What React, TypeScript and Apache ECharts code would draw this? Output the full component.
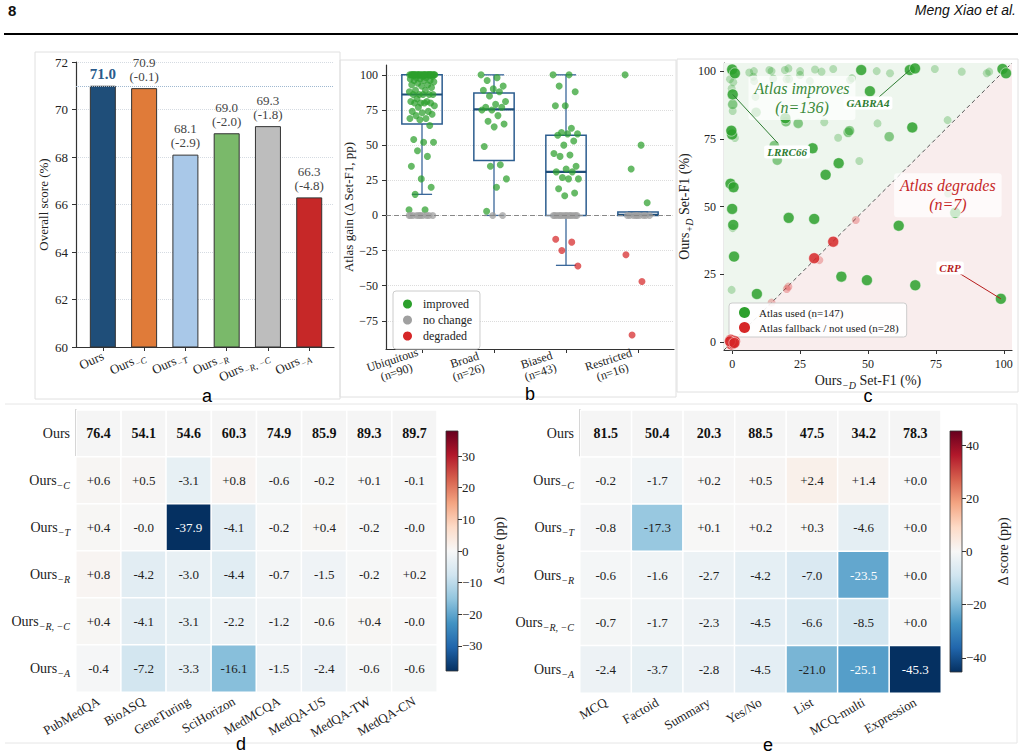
import React, { useEffect, useRef } from 'react';
import * as echarts from 'echarts';

const SERIF = '"Liberation Serif", "DejaVu Serif", "Times New Roman", serif';
const SANS = '"Liberation Sans", "DejaVu Sans", Arial, sans-serif';

// ---- a: overall score per ablation variant ----
const variantSubs = ['', 'C', 'T', 'R', 'R, \u2212C', 'A'];
const overallScores = [71.0, 70.9, 68.1, 69.0, 69.3, 66.3];
const overallDeltas = [0, -0.1, -2.9, -2.0, -1.8, -4.8];
const overallTicks = [60, 62, 64, 66, 68, 70, 72];

// ---- b: Atlas gain by specificity group ----
const specificityGroups = ['Ubiquitous', 'Broad', 'Biased', 'Restricted'];
const groupSizes = [90, 26, 43, 16];
// [lower whisker, Q1, median, Q3, upper whisker]
const gainBoxStats = [
  [15, 65, 86, 100, 100],
  [0, 39, 75.5, 87, 100],
  [-35.5, 0, 31, 57, 100],
  [0, 0, 0.5, 2.5, 2.5],
];
const improvedGains = [
  [4, 4, 15, 20, 26, 35, 42, 46, 52, 52, 54, 64, 68, 69, 69, 71, 72, 73, 74, 74, 77, 78, 80, 80, 80, 80, 81, 81, 83, 86, 86, 86, 86, 86,
    88, 89, 89, 91, 92, 93, 93, 94, 95, 96, 96, 96, 97, 97, 98, 98, 99, 99,
    100, 100, 100, 100, 100, 100, 100, 100, 100, 100, 100, 100, 100, 100, 100, 100, 100, 100, 100, 100, 100, 100, 100, 100, 100, 100, 100, 100],
  [100, 98, 96, 92, 90, 89, 88, 85, 81, 79, 77, 77, 75, 75, 71, 67, 65, 63, 49, 36, 35, 26, 20, 3],
  [100, 100, 92, 88, 78, 78, 62, 59, 58, 58, 57, 53, 50, 44, 43, 42, 35, 33, 31, 31, 27, 26, 26, 19, 16, 14],
  [100, 50, 33, 9],
];
const unchangedCounts = [10, 2, 13, 9];
const degradedGains = [[], [], [-17, -19, -25, -36], [-28, -47, -85]];
const gainTicks = [-75, -50, -25, 0, 25, 50, 75, 100];

// ---- c: Set-F1 without (x) vs with (y) the atlas ----
const usedStrong = [
  [0, 100.6], [1, 99.2], [47.5, 100.4], [65.4, 100.4], [67.3, 101], [99.5, 100.8], [100.8, 99.2],
  [50.7, 92.6], [19.6, 82.6], [66.3, 79.2], [0, 76.6], [-0.3, 78], [29.6, 71.5], [39.2, 66], [34.4, 61.7],
  [-0.6, 58.4], [0.5, 57.1], [0, 49.1], [0.4, 43.2], [20.8, 45.8], [30.2, 45.4], [61.3, 42.9], [82.1, 47.7],
  [0.7, 31.5], [9.1, 17.7], [40.2, 24.1], [49.6, 22.8], [67.4, 20.9], [98.9, 15.9], [0.2, 91.4],
];
const usedMedium = [
  [24.3, 80.7], [42.7, 77.4], [43.2, 78], [57.8, 75.8], [16.6, 67.1], [15.5, 72.5], [8.8, 84.8], [0.2, 87.7], [19.8, 81.3],
];
const usedFaint = [
  [6.3, 99.5], [8, 100], [7.8, 97.9], [8.1, 96.3], [13.7, 100.4], [14.5, 100], [15.1, 97.3], [19.4, 100.4], [20.7, 101],
  [20, 97], [21, 97], [25, 100], [25, 98.6], [28.6, 96.3], [30.5, 100.6], [32.9, 99.8], [37.2, 100.8], [43.4, 96.7],
  [44.1, 97.4], [53.2, 100], [58.1, 99.2], [74.6, 100.8], [84.5, 99.8], [93.7, 99.2], [94.6, 99.8], [-0.8, 97],
  [0.4, 95.9], [-0.2, 93.6], [-0.5, 100], [0.6, 98.5], [0.2, 85.3], [1, 75.3], [8.6, 90.5], [33.9, 81.1], [39, 75.4],
  [53.5, 80.7], [46.8, 66.8], [79.3, 81.9], [79.5, 54.8], [-0.2, 19.2], [0.2, 42], [-0.6, 77.8],
];
const fallbackStrong = [
  [0, 0], [0.5, 0.3], [-0.5, 0.8], [1, 0.2], [-0.2, -1], [0.3, -0.6], [-0.8, 0.2], [0.8, -0.4], [37.2, 37], [30.2, 30.9],
];
const fallbackFaint = [[32.1, 30.2], [45.5, 45], [20.1, 19.5], [20.7, 20.4], [14.5, 14.5], [0.5, 1], [-1, -0.5]];
const usedCount = 147;
const fallbackCount = 28;
const improvesCount = 136;
const degradesCount = 7;
const f1Ticks = [0, 25, 50, 75, 100];

// ---- d: per-benchmark scores ----
const dBenchmarks = ['PubMedQA', 'BioASQ', 'GeneTuring', 'SciHorizon', 'MedMCQA', 'MedQA-US', 'MedQA-TW', 'MedQA-CN'];
const dOurs = [76.4, 54.1, 54.6, 60.3, 74.9, 85.9, 89.3, 89.7];
const dDeltas = [
  [0.6, 0.5, -3.1, 0.8, -0.6, -0.2, 0.1, -0.1],
  [0.4, -0.0, -37.9, -4.1, -0.2, 0.4, -0.2, -0.0],
  [0.8, -4.2, -3.0, -4.4, -0.7, -1.5, -0.2, 0.2],
  [0.4, -4.1, -3.1, -2.2, -1.2, -0.6, 0.4, -0.0],
  [-0.4, -7.2, -3.3, -16.1, -1.5, -2.4, -0.6, -0.6],
];
const dColorTicks = [-30, -20, -10, 0, 10, 20, 30];

// ---- e: per-question-type scores ----
const eTypes = ['MCQ', 'Factoid', 'Summary', 'Yes/No', 'List', 'MCQ-multi', 'Expression'];
const eOurs = [81.5, 50.4, 20.3, 88.5, 47.5, 34.2, 78.3];
const eDeltas = [
  [-0.2, -1.7, 0.2, 0.5, 2.4, 1.4, 0.0],
  [-0.8, -17.3, 0.1, 0.2, 0.3, -4.6, 0.0],
  [-0.6, -1.6, -2.7, -4.2, -7.0, -23.5, 0.0],
  [-0.7, -1.7, -2.3, -4.5, -6.6, -8.5, 0.0],
  [-2.4, -3.7, -2.8, -4.5, -21.0, -25.1, -45.3],
];
const eColorTicks = [-40, -20, 0, 20, 40];

const RDBU_R = ['#053061', '#2166ac', '#4393c3', '#92c5de', '#d1e5f0', '#f7f7f7', '#fddbc7', '#f4a582', '#d6604d', '#b2182b', '#67001f'];
const BAR_COLORS = ['#1f4e79', '#e07b39', '#a9c8e8', '#7ab96a', '#bdbdbd', '#c62828'];
const INK = '#222';
const AXIS = '#333';

const minus = (v: number) => (v < 0 ? '\u2212' + Math.abs(v) : String(v));
const signed = (v: number) => (v < 0 || Object.is(v, -0) ? '-' : '+') + Math.abs(v).toFixed(1);
const oursLabel = (s: string) => (s ? `{n|Ours}{s|\u2212${s}}` : '{n|Ours}');

const subRich = (size: number) => ({
  n: { fontFamily: SERIF, fontSize: size, lineHeight: size + 6, color: INK },
  s: { fontFamily: SERIF, fontSize: Math.round(size * 0.68), fontStyle: 'italic', lineHeight: Math.round(size * 0.68), verticalAlign: 'bottom', color: INK },
});

const jitter = (k: number) => (((k * 0.6180339887) % 1) - 0.5) * 0.36;

function stripPoints() {
  const improved: number[][] = [];
  const unchanged: number[][] = [];
  const degraded: number[][] = [];
  specificityGroups.forEach((_, g) => {
    let k = 0;
    improvedGains[g].forEach((v) => improved.push([g + jitter(k++), v]));
    for (let i = 0; i < unchangedCounts[g]; i++) unchanged.push([g + jitter(k++), 0]);
    degradedGains[g].forEach((v) => degraded.push([g + jitter(k++), v]));
  });
  return { improved, unchanged, degraded };
}

// top of the bar = highest value (dark red), bottom = lowest (dark blue)
function gradientStops() {
  const n = RDBU_R.length - 1;
  return RDBU_R.map((_, i) => ({ offset: i / n, color: RDBU_R[n - i] }));
}

function buildOption() {
  const series: any[] = [];
  const axisLineStyle = { color: AXIS, width: 1.2 };
  const tickLabel = { fontFamily: SERIF, fontSize: 12, color: INK };

  // ---------- a ----------
  series.push({
    type: 'bar', xAxisIndex: 0, yAxisIndex: 0, barWidth: 26, z: 3,
    itemStyle: { borderColor: '#333', borderWidth: 1 },
    data: overallScores.map((v, i) => ({
      value: [i, v],
      itemStyle: { color: BAR_COLORS[i] },
      label: i === 0
        ? { formatter: v.toFixed(1), color: '#2a5b8c', fontWeight: 'bold', fontSize: 15 }
        : { formatter: `${v.toFixed(1)}\n(${overallDeltas[i].toFixed(1)})` },
    })),
    label: { show: true, position: 'top', distance: 5, fontFamily: SERIF, fontSize: 13, lineHeight: 14, color: '#444' },
    markLine: {
      silent: true, symbol: 'none', label: { show: false },
      lineStyle: { type: 'dotted', color: '#9fb8d0', width: 1 },
      data: [{ yAxis: overallScores[0] }],
    },
  });

  // ---------- b ----------
  series.push({
    type: 'custom', xAxisIndex: 1, yAxisIndex: 1, z: 2, silent: true,
    data: gainBoxStats.map((s, i) => [i, ...s]),
    renderItem: (_p: any, api: any) => {
      const i = api.value(0);
      const lo = api.value(1), q1 = api.value(2), med = api.value(3), q3 = api.value(4), hi = api.value(5);
      const hw = 0.28, cw = 0.14;
      const [xl, yq3] = api.coord([i - hw, q3]);
      const [xr, yq1] = api.coord([i + hw, q1]);
      const [xc, ylo] = api.coord([i, lo]);
      const yhi = api.coord([i, hi])[1];
      const ym = api.coord([i, med])[1];
      const cl = api.coord([i - cw, 0])[0];
      const cr = api.coord([i + cw, 0])[0];
      const st = { stroke: '#3a679a', lineWidth: 1.3 };
      return {
        type: 'group',
        children: [
          { type: 'line', shape: { x1: xc, y1: yq1, x2: xc, y2: ylo }, style: st },
          { type: 'line', shape: { x1: xc, y1: yq3, x2: xc, y2: yhi }, style: st },
          { type: 'line', shape: { x1: cl, y1: ylo, x2: cr, y2: ylo }, style: st },
          { type: 'line', shape: { x1: cl, y1: yhi, x2: cr, y2: yhi }, style: st },
          { type: 'rect', shape: { x: xl, y: yq3, width: xr - xl, height: Math.max(yq1 - yq3, 0.5) }, style: { fill: 'rgba(0,0,0,0)', stroke: '#2c5d8f', lineWidth: 1.5 } },
          { type: 'line', shape: { x1: xl, y1: ym, x2: xr, y2: ym }, style: { stroke: '#1f4e79', lineWidth: 2.2 } },
        ],
      };
    },
  });
  const pts = stripPoints();
  series.push({
    type: 'scatter', name: 'improved', xAxisIndex: 1, yAxisIndex: 1, z: 4, symbolSize: 7,
    itemStyle: { color: '#2ca02c', opacity: 0.72 }, data: pts.improved,
    markLine: {
      silent: true, symbol: 'none', label: { show: false },
      lineStyle: { type: [5, 3], color: '#888', width: 1.2 },
      data: [{ yAxis: 0 }],
    },
  });
  series.push({ type: 'scatter', name: 'no change', xAxisIndex: 1, yAxisIndex: 1, z: 4, symbolSize: 7, itemStyle: { color: '#a0a0a0', opacity: 0.75 }, data: pts.unchanged });
  series.push({ type: 'scatter', name: 'degraded', xAxisIndex: 1, yAxisIndex: 1, z: 4, symbolSize: 7, itemStyle: { color: '#d62728', opacity: 0.72 }, data: pts.degraded });

  // ---------- c ----------
  const cMin = -3, cMax = 103;
  series.push({
    type: 'custom', xAxisIndex: 2, yAxisIndex: 2, z: 1, silent: true, data: [[0, 0]],
    renderItem: (_p: any, api: any) => {
      const a = api.coord([cMin, cMin]), b = api.coord([cMin, cMax]), c = api.coord([cMax, cMax]), d = api.coord([cMax, cMin]);
      return {
        type: 'group',
        children: [
          { type: 'polygon', shape: { points: [a, b, c] }, style: { fill: '#eef6ee' } },
          { type: 'polygon', shape: { points: [a, d, c] }, style: { fill: '#f9eded' } },
          { type: 'line', shape: { x1: a[0], y1: a[1], x2: c[0], y2: c[1] }, style: { stroke: '#555', lineWidth: 1, lineDash: [4, 3] } },
        ],
      };
    },
  });
  const usedName = `Atlas used (n=${usedCount})`;
  const fallbackName = `Atlas fallback / not used (n=${fallbackCount})`;
  series.push({ type: 'scatter', name: usedName, xAxisIndex: 2, yAxisIndex: 2, z: 3, symbolSize: 8, itemStyle: { color: '#2ca02c', opacity: 0.3 }, data: usedFaint });
  series.push({ type: 'scatter', name: fallbackName, xAxisIndex: 2, yAxisIndex: 2, z: 3, symbolSize: 8, itemStyle: { color: '#d62728', opacity: 0.3 }, data: fallbackFaint });
  series.push({ type: 'scatter', name: usedName, xAxisIndex: 2, yAxisIndex: 2, z: 4, symbolSize: 10, itemStyle: { color: '#2ca02c', opacity: 0.55, borderColor: '#fff', borderWidth: 0.6 }, data: usedMedium });
  series.push({ type: 'scatter', name: usedName, xAxisIndex: 2, yAxisIndex: 2, z: 5, symbolSize: 11, itemStyle: { color: '#2ca02c', opacity: 0.85, borderColor: '#fff', borderWidth: 0.6 }, data: usedStrong });
  series.push({ type: 'scatter', name: fallbackName, xAxisIndex: 2, yAxisIndex: 2, z: 5, symbolSize: 11, itemStyle: { color: '#d62728', opacity: 0.85, borderColor: '#fff', borderWidth: 0.6 }, data: fallbackStrong });

  // region captions and gene call-outs, anchored in data units
  const notes = [
    { text: `Atlas improves\n(n=${improvesCount})`, at: [25.7, 90.1], color: '#3a8a3a', big: true },
    { text: `Atlas degrades\n(n=${degradesCount})`, at: [79.4, 54.2], color: '#c62828', big: true },
    { text: 'GABRA4', at: [50, 88.2], color: '#2e7d32', big: false, from: [54, 90.4], to: [65.4, 100.4] },
    { text: 'LRRC66', at: [20.2, 70.1], color: '#2e7d32', big: false, from: [16.8, 73.4], to: [0.2, 91.4] },
    { text: 'CRP', at: [80.2, 27.3], color: '#b71c1c', big: false, from: [83.5, 25.4], to: [98.9, 15.9] },
  ];
  series.push({
    type: 'custom', xAxisIndex: 2, yAxisIndex: 2, z: 8, silent: true,
    data: notes.map((n, i) => [n.at[0], n.at[1], i]),
    renderItem: (_p: any, api: any) => {
      const n = notes[api.value(2)];
      const p = api.coord(n.at);
      const children: any[] = [];
      if (n.from && n.to) {
        const a = api.coord(n.from), b = api.coord(n.to);
        children.push({ type: 'line', shape: { x1: a[0], y1: a[1], x2: b[0], y2: b[1] }, style: { stroke: n.color, lineWidth: 1 } });
      }
      children.push({
        type: 'text',
        style: n.big
          ? { text: n.text, x: p[0], y: p[1], align: 'center', verticalAlign: 'middle', fontFamily: SERIF, fontSize: 16, fontStyle: 'italic', lineHeight: 19, fill: n.color, backgroundColor: 'rgba(255,255,255,0.72)', padding: [3, 6], borderRadius: 3 }
          : { text: n.text, x: p[0], y: p[1], align: 'center', verticalAlign: 'middle', fontFamily: SERIF, fontSize: 11, fontStyle: 'italic', fontWeight: 'bold', fill: n.color, backgroundColor: '#fff', padding: [1, 3], borderRadius: 2 },
      });
      return { type: 'group', children };
    },
  });

  // ---------- d / e heatmaps ----------
  const heat = (xi: number, yi: number, cbx: number, cby: number, ours: number[], deltas: number[][], lim: number) => {
    series.push({
      type: 'custom', xAxisIndex: xi, yAxisIndex: yi, z: 2, silent: true,
      data: ours.map((v, c) => [c, 0, v]),
      renderItem: (_p: any, api: any) => {
        const c = api.coord([api.value(0), api.value(1)]);
        const s = api.size([1, 1]);
        return {
          type: 'group',
          children: [
            { type: 'rect', shape: { x: c[0] - s[0] / 2, y: c[1] - s[1] / 2, width: s[0], height: s[1] }, style: { fill: '#f5f5f5', stroke: '#fff', lineWidth: 1.5 } },
            { type: 'text', style: { text: api.value(2).toFixed(1), x: c[0], y: c[1], align: 'center', verticalAlign: 'middle', fontFamily: SERIF, fontSize: 14, fontWeight: 'bold', fill: '#111' } },
          ],
        };
      },
    });
    const heatIndex = series.length;
    const cells: any[] = [];
    deltas.forEach((row, r) => row.forEach((v, c) => cells.push({
      value: [c, r + 1, v],
      label: { color: Math.abs(v) > lim * 0.5 ? '#fff' : INK },
    })));
    series.push({
      type: 'heatmap', xAxisIndex: xi, yAxisIndex: yi, z: 2, data: cells,
      itemStyle: { borderColor: '#fff', borderWidth: 1.5 },
      emphasis: { disabled: true },
      label: { show: true, fontFamily: SERIF, fontSize: 13, formatter: (p: any) => signed(deltas[p.value[1] - 1][p.value[0]]) },
    });
    series.push({
      type: 'custom', xAxisIndex: cbx, yAxisIndex: cby, silent: true, data: [[0, 0]],
      renderItem: (_p: any, api: any) => {
        const a = api.coord([0, lim]);
        const b = api.coord([1, -lim]);
        return {
          type: 'rect',
          shape: { x: a[0], y: a[1], width: b[0] - a[0], height: b[1] - a[1] },
          style: { fill: new echarts.graphic.LinearGradient(0, 0, 0, 1, gradientStops()), stroke: '#333', lineWidth: 0.8 },
        };
      },
    });
    return heatIndex;
  };
  const dLim = Math.max(...dDeltas.flat().map(Math.abs));
  const eLim = Math.max(...eDeltas.flat().map(Math.abs));
  const dHeat = heat(3, 3, 4, 4, dOurs, dDeltas, dLim);
  const eHeat = heat(5, 5, 6, 6, eOurs, eDeltas, eLim);

  const heatX = (cats: string[], gi: number) => ({
    gridIndex: gi, type: 'category', data: cats,
    axisLine: { show: true, onZero: false, lineStyle: { color: AXIS, width: 1.6 } }, axisTick: { show: false },
    axisLabel: { interval: 0, rotate: 30, fontFamily: SERIF, fontSize: 13, color: INK, margin: 8 },
    splitLine: { show: false },
  });
  const heatY = (gi: number) => ({
    gridIndex: gi, type: 'category', inverse: true, data: variantSubs.map((_, i) => String(i)),
    axisLine: { show: true, onZero: false, lineStyle: { color: AXIS, width: 1.6 } }, axisTick: { show: false },
    axisLabel: { interval: 0, formatter: (v: string) => oursLabel(variantSubs[+v]), rich: subRich(14), margin: 6 },
    splitLine: { show: false },
  });
  const cbarX = (gi: number) => ({ gridIndex: gi, type: 'value', min: 0, max: 1, show: false });
  const cbarY = (gi: number, lim: number, ticks: number[]) => ({
    gridIndex: gi, type: 'value', position: 'right', min: -lim, max: lim,
    axisLine: { show: false, onZero: false },
    axisTick: { show: true, customValues: ticks, length: 4, lineStyle: { color: AXIS } },
    axisLabel: { customValues: ticks, formatter: minus, fontFamily: SERIF, fontSize: 13, color: INK, margin: 4 },
    splitLine: { show: false },
    name: '\u0394 score (pp)', nameLocation: 'middle', nameRotate: 90, nameGap: 34,
    nameTextStyle: { fontFamily: SERIF, fontSize: 14, color: INK },
  });

  const graphic: any[] = [
    { type: 'text', left: 8, top: 3, style: { text: '8', font: `bold 15px ${SANS}`, fill: '#111' } },
    { type: 'text', right: 7, top: 3, style: { text: 'Meng Xiao et al.', font: `italic 14px ${SANS}`, fill: '#111' } },
    { type: 'rect', shape: { x: 4, y: 33, width: 1014, height: 2 }, style: { fill: '#000' } },
    { type: 'rect', shape: { x: 35, y: 52, width: 305, height: 347 }, style: { fill: 'none', stroke: '#e0e0e0', lineWidth: 1 }, silent: true, z: -1 },
    { type: 'rect', shape: { x: 340, y: 60, width: 336, height: 337 }, style: { fill: 'none', stroke: '#e0e0e0', lineWidth: 1 }, silent: true, z: -1 },
    { type: 'rect', shape: { x: 677, y: 59, width: 341, height: 333 }, style: { fill: 'none', stroke: '#e0e0e0', lineWidth: 1 }, silent: true, z: -1 },
    { type: 'line', shape: { x1: 5, y1: 404, x2: 1017, y2: 404 }, style: { stroke: '#e6e6e6', lineWidth: 1 }, silent: true },
    { type: 'line', shape: { x1: 5, y1: 743, x2: 1017, y2: 743 }, style: { stroke: '#e6e6e6', lineWidth: 1 }, silent: true },
    { type: 'line', shape: { x1: 1017, y1: 404, x2: 1017, y2: 743 }, style: { stroke: '#e6e6e6', lineWidth: 1 }, silent: true },
  ];
  const letters: [string, number, number][] = [['a', 207, 396], ['b', 530, 394], ['c', 868, 396], ['d', 241, 744], ['e', 768, 745]];
  letters.forEach(([t, x, y]) => graphic.push({ type: 'text', x, y, style: { text: t, font: `18px ${SANS}`, fill: '#000', align: 'center', verticalAlign: 'middle' } }));

  return {
    animation: false,
    backgroundColor: '#fff',
    textStyle: { fontFamily: SERIF },
    graphic,
    grid: [
      { left: 76, top: 62, width: 258, height: 285 },
      { left: 386, top: 65, width: 288, height: 284 },
      { left: 724, top: 63, width: 288, height: 287 },
      { left: 76, top: 410, width: 361, height: 282 },
      { left: 446, top: 431, width: 12, height: 240 },
      { left: 580, top: 410, width: 361, height: 283 },
      { left: 950, top: 431, width: 12, height: 241 },
    ],
    xAxis: [
      {
        gridIndex: 0, type: 'value', min: -0.65, max: 5.6,
        axisLine: { show: true, onZero: false, lineStyle: axisLineStyle },
        axisTick: { show: true, customValues: variantSubs.map((_, i) => i), length: 4, lineStyle: { color: AXIS } },
        axisLabel: { customValues: variantSubs.map((_, i) => i), rotate: 25, margin: 8, formatter: (v: number) => oursLabel(variantSubs[v]), rich: subRich(13) },
        splitLine: { show: false },
      },
      {
        gridIndex: 1, type: 'value', min: -0.5, max: 3.5,
        axisLine: { show: true, onZero: false, lineStyle: axisLineStyle },
        axisTick: { show: true, customValues: [0, 1, 2, 3], length: 4, lineStyle: { color: AXIS } },
        axisLabel: {
          customValues: [0, 1, 2, 3], rotate: 18, margin: 8,
          formatter: (v: number) => `{c|${specificityGroups[v]}}\n{c|(n=${groupSizes[v]})}`,
          rich: { c: { fontFamily: SERIF, fontSize: 12, lineHeight: 13, color: INK, width: 58, align: 'center' } },
        },
        splitLine: { show: false },
      },
      {
        gridIndex: 2, type: 'value', min: cMin, max: cMax,
        axisLine: { show: true, onZero: false, lineStyle: axisLineStyle },
        axisTick: { show: true, customValues: f1Ticks, length: 4, lineStyle: { color: AXIS } },
        axisLabel: { customValues: f1Ticks, ...tickLabel },
        splitLine: { show: false },
        name: '{n|Ours}{s|\u2212D}{n| Set-F1 (%)}', nameLocation: 'middle', nameGap: 20,
        nameTextStyle: { rich: subRich(14) },
      },
      heatX(dBenchmarks, 3),
      cbarX(4),
      heatX(eTypes, 5),
      cbarX(6),
    ],
    yAxis: [
      {
        gridIndex: 0, type: 'value', min: overallTicks[0], max: overallTicks[overallTicks.length - 1], interval: 2,
        axisLine: { show: true, onZero: false, lineStyle: axisLineStyle },
        axisTick: { show: true, length: 4, lineStyle: { color: AXIS } },
        axisLabel: { fontFamily: SERIF, fontSize: 13, color: INK },
        splitLine: { show: true, lineStyle: { type: 'dotted', color: '#d5dbe2' } },
        name: 'Overall score (%)', nameLocation: 'middle', nameGap: 26,
        nameTextStyle: { fontFamily: SERIF, fontSize: 13, color: INK },
      },
      {
        gridIndex: 1, type: 'value', min: -95, max: 107,
        axisLine: { show: true, onZero: false, lineStyle: axisLineStyle },
        axisTick: { show: true, customValues: gainTicks, length: 4, lineStyle: { color: AXIS } },
        axisLabel: { customValues: gainTicks, formatter: minus, ...tickLabel },
        splitLine: { show: true, lineStyle: { type: 'dotted', color: '#dcdcdc' } },
        name: 'Atlas gain (\u0394 Set-F1, pp)', nameLocation: 'middle', nameGap: 30,
        nameTextStyle: { fontFamily: SERIF, fontSize: 13, color: INK },
      },
      {
        gridIndex: 2, type: 'value', min: cMin, max: cMax,
        axisLine: { show: true, onZero: false, lineStyle: axisLineStyle },
        axisTick: { show: true, customValues: f1Ticks, length: 4, lineStyle: { color: AXIS } },
        axisLabel: { customValues: f1Ticks, ...tickLabel },
        splitLine: { show: false },
        name: '{n|Ours}{s|+D}{n| Set-F1 (%)}', nameLocation: 'middle', nameGap: 30,
        nameTextStyle: { rich: subRich(14) },
      },
      heatY(3),
      cbarY(4, dLim, dColorTicks),
      heatY(5),
      cbarY(6, eLim, eColorTicks),
    ],
    visualMap: [
      { type: 'continuous', show: false, seriesIndex: dHeat, dimension: 2, min: -dLim, max: dLim, inRange: { color: RDBU_R } },
      { type: 'continuous', show: false, seriesIndex: eHeat, dimension: 2, min: -eLim, max: eLim, inRange: { color: RDBU_R } },
    ],
    legend: [
      {
        left: 393, top: 291, orient: 'vertical', selectedMode: false,
        padding: [7, 8, 7, 10], itemWidth: 9, itemHeight: 9, itemGap: 4,
        backgroundColor: 'rgba(255,255,255,0.9)', borderColor: '#ccc', borderWidth: 1, borderRadius: 3,
        textStyle: { fontFamily: SERIF, fontSize: 12, color: INK, padding: [0, 0, 0, 6] },
        data: [
          { name: 'improved', icon: 'circle', itemStyle: { color: '#2ca02c', opacity: 1 } },
          { name: 'no change', icon: 'circle', itemStyle: { color: '#a0a0a0', opacity: 1 } },
          { name: 'degraded', icon: 'circle', itemStyle: { color: '#d62728', opacity: 1 } },
        ],
      },
      {
        left: 729, top: 303, orient: 'vertical', selectedMode: false,
        padding: [4, 8, 4, 10], itemWidth: 11, itemHeight: 11, itemGap: 4,
        backgroundColor: 'rgba(255,255,255,0.9)', borderColor: '#ccc', borderWidth: 1, borderRadius: 3,
        textStyle: { fontFamily: SERIF, fontSize: 11, color: INK, padding: [0, 0, 0, 4] },
        data: [
          { name: usedName, icon: 'circle', itemStyle: { color: '#2ca02c', opacity: 1, borderWidth: 0 } },
          { name: fallbackName, icon: 'circle', itemStyle: { color: '#d62728', opacity: 1, borderWidth: 0 } },
        ],
      },
    ],
    series,
  };
}

export default function App() {
  const ref = useRef<HTMLDivElement>(null);
  useEffect(() => {
    const chart = echarts.init(ref.current!, null, { renderer: 'svg' });
    chart.setOption(buildOption() as any);
    return () => chart.dispose();
  }, []);
  return <div ref={ref} style={{ position: 'fixed', left: 0, top: 0, width: 1023, height: 756, background: '#fff' }} />;
}
